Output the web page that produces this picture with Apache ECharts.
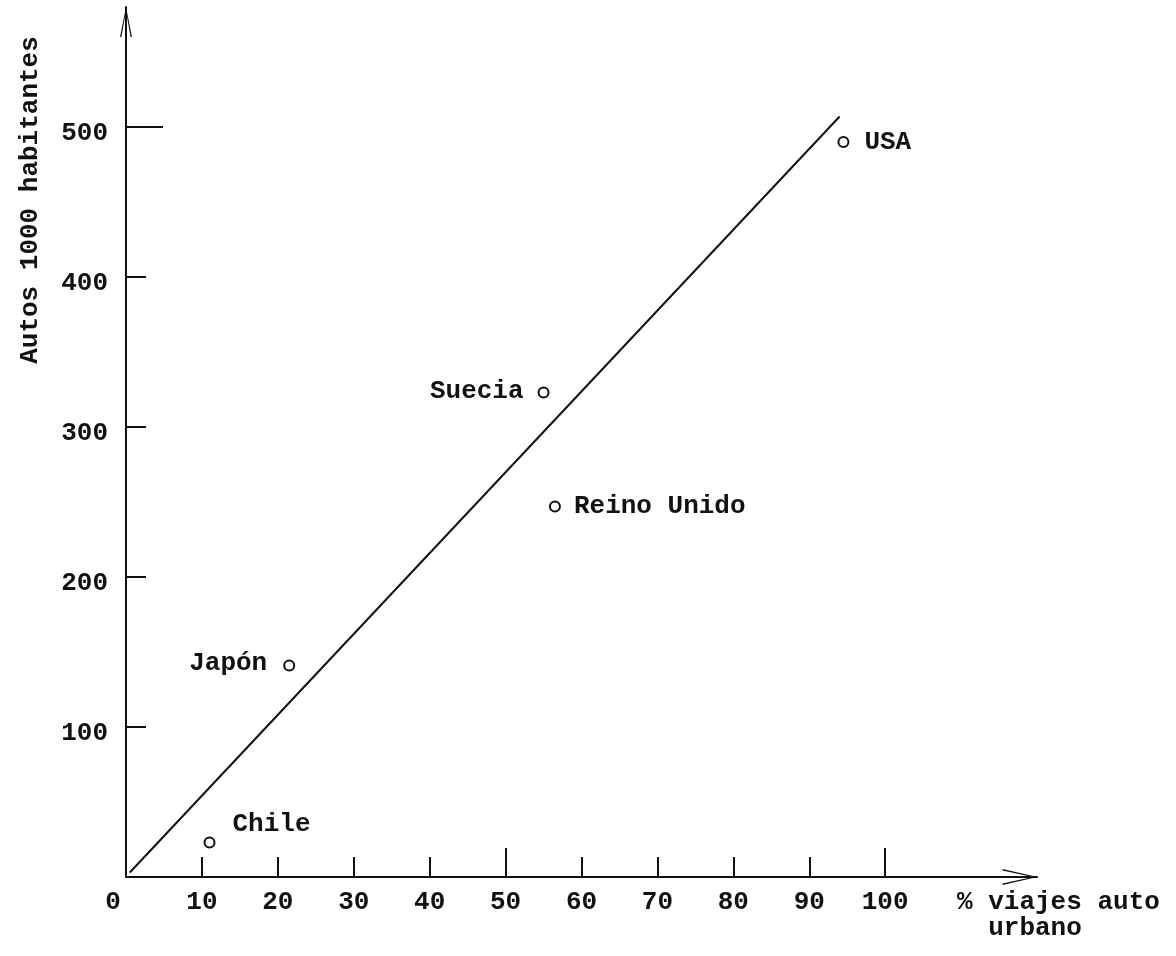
<!DOCTYPE html>
<html>
<head>
<meta charset="utf-8">
<title>Autos por 1000 habitantes vs % viajes en auto urbano</title>
<script src="https://cdn.jsdelivr.net/npm/echarts@6/dist/echarts.min.js"></script>
<style>
  html, body { margin: 0; padding: 0; background: #ffffff; }
  #chart { width: 1176px; height: 956px; }
</style>
</head>
<body>
<div id="chart"></div>
<script>
// Countries and their values
const countries = ['Chile', 'Japón', 'Suecia', 'Reino Unido', 'USA'];
const pctUrbanCarTrips = [11, 21.5, 55, 56.5, 94.5];   // % viajes auto urbano
const carsPer1000 = [23, 141, 323, 247, 490];        // autos por 1000 habitantes

// Hand-drawn trend line (two endpoints)
const trendX = [0.5, 94];
const trendY = [3, 507];

// Tick and label values
const xLabelValues = [0, 10, 20, 30, 40, 50, 60, 70, 80, 90, 100];
const xTickValues = [10, 20, 30, 40, 50, 60, 70, 80, 90, 100];
const xLongTickValues = [50, 100];
const yTickValues = [100, 200, 300, 400, 500];
const yLongTickValues = [500];

const FONT = '"Liberation Mono", "DejaVu Sans Mono", monospace';
const INK = '#111111';

// Where each country's name sits relative to its circle
const labelLayout = {
  'Chile':       { position: 'right', offset: [12, -18] },
  'Japón':       { position: 'left',  offset: [-11, -2] },
  'Suecia':      { position: 'left',  offset: [-9, -1] },
  'Reino Unido': { position: 'right', offset: [8, 0] },
  'USA':         { position: 'right', offset: [10, 0] }
};

const points = countries.map((name, i) => ({
  name: name,
  value: [pctUrbanCarTrips[i], carsPer1000[i]],
  label: labelLayout[name]
}));

const trendData = trendX.map((x, i) => [x, trendY[i]]);

// Open chevron arrow heads (pointing up in their own frame)
const xArrow = 'path://M0,35 L8,0 L16,35 L14.4,35 L8,5 L1.6,35 Z';
const yArrow = 'path://M0,30 L6,0 L12,30 L10.6,30 L6,4 L1.4,30 Z';

const labelFont = { fontFamily: FONT, fontSize: 26, fontWeight: 'bold', color: INK };

const chart = echarts.init(document.getElementById('chart'), null, { renderer: 'canvas' });

const option = {
  backgroundColor: '#ffffff',
  animation: false,
  textStyle: { fontFamily: FONT, color: INK },
  grid: { left: 126, top: 7, right: 139, bottom: 79, containLabel: false },
  xAxis: [
    {
      type: 'value',
      min: 0,
      max: 120,
      interval: 10,
      axisLine: {
        show: true,
        onZero: false,
        lineStyle: { color: INK, width: 2 },
        symbol: ['none', xArrow],
        symbolSize: [16, 35],
        symbolOffset: [0, -17]
      },
      axisTick: {
        show: true,
        inside: true,
        length: 20,
        customValues: xTickValues,
        lineStyle: { color: INK, width: 2 }
      },
      axisLabel: Object.assign({
        show: true,
        customValues: xLabelValues,
        margin: 12,
        formatter: v => (v === 0 ? '{z|0}' : String(v)),
        rich: {
          z: Object.assign({ padding: [0, 26, 0, 0] }, labelFont)
        }
      }, labelFont),
      splitLine: { show: false }
    },
    {
      type: 'value',
      min: 0,
      max: 120,
      interval: 10,
      position: 'bottom',
      axisLine: { show: false },
      axisTick: {
        show: true,
        inside: true,
        length: 29,
        customValues: xLongTickValues,
        lineStyle: { color: INK, width: 2 }
      },
      axisLabel: { show: false },
      splitLine: { show: false }
    }
  ],
  yAxis: [
    {
      type: 'value',
      min: 0,
      max: 580,
      interval: 100,
      axisLine: {
        show: true,
        onZero: false,
        lineStyle: { color: INK, width: 2 },
        symbol: ['none', yArrow],
        symbolSize: [12, 30],
        symbolOffset: [0, -15]
      },
      axisTick: {
        show: true,
        inside: true,
        length: 20,
        customValues: yTickValues,
        lineStyle: { color: INK, width: 2 }
      },
      axisLabel: Object.assign({
        show: true,
        customValues: yTickValues,
        margin: 18,
        formatter: v => '{n|' + v + '}',
        rich: {
          n: Object.assign({ padding: [12, 0, 0, 0] }, labelFont)
        }
      }, labelFont),
      splitLine: { show: false }
    },
    {
      type: 'value',
      min: 0,
      max: 580,
      interval: 100,
      position: 'left',
      axisLine: { show: false },
      axisTick: {
        show: true,
        inside: true,
        length: 37,
        customValues: yLongTickValues,
        lineStyle: { color: INK, width: 2 }
      },
      axisLabel: { show: false },
      splitLine: { show: false }
    }
  ],
  graphic: [
    {
      type: 'text',
      x: 30,
      y: 200,
      rotation: Math.PI / 2,
      style: {
        text: 'Autos 1000 habitantes',
        font: 'bold 26px ' + FONT,
        fill: INK,
        align: 'center',
        verticalAlign: 'middle'
      }
    },
    {
      type: 'text',
      x: 957,
      y: 889,
      style: {
        text: '% viajes auto\n  urbano',
        font: 'bold 26px ' + FONT,
        lineHeight: 26,
        fill: INK,
        align: 'left',
        verticalAlign: 'top'
      }
    }
  ],
  series: [
    {
      name: 'tendencia',
      type: 'line',
      xAxisIndex: 0,
      yAxisIndex: 0,
      data: trendData,
      showSymbol: false,
      symbol: 'none',
      lineStyle: { color: INK, width: 2 },
      silent: true,
      z: 2
    },
    {
      name: 'países',
      type: 'scatter',
      xAxisIndex: 0,
      yAxisIndex: 0,
      data: points,
      symbol: 'emptyCircle',
      symbolSize: 10,
      itemStyle: { color: INK, borderColor: INK, borderWidth: 2.5, opacity: 1 },
      label: Object.assign({
        show: true,
        formatter: '{b}',
        distance: 5
      }, labelFont),
      z: 3
    }
  ]
};

chart.setOption(option);
</script>
</body>
</html>
